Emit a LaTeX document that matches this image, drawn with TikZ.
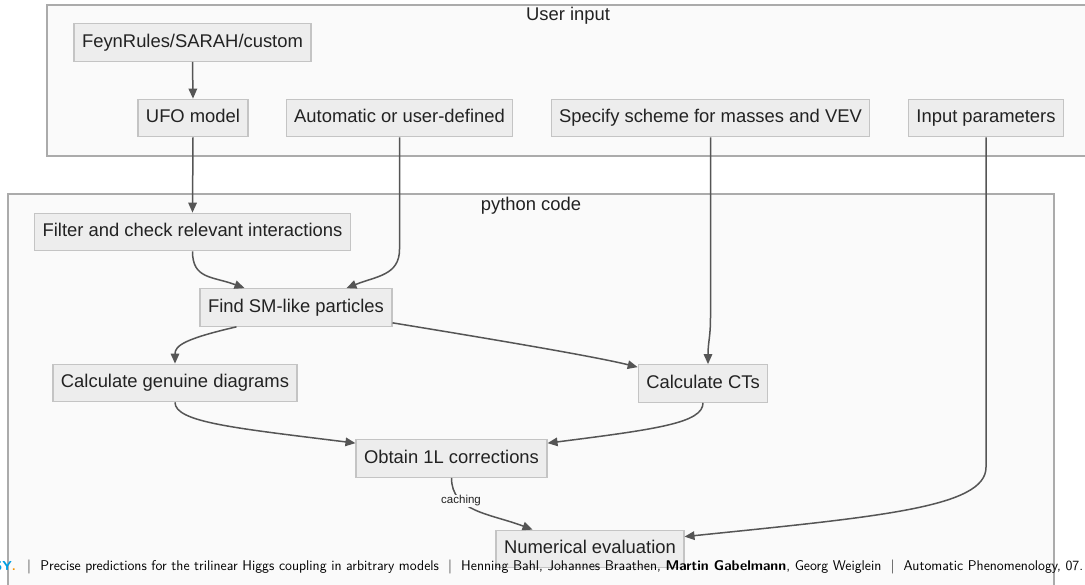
\documentclass[tikz,border=0pt]{standalone}
\usepackage{fontspec}
\setmainfont{Liberation Sans}
\usetikzlibrary{arrows.meta,calc}
\definecolor{boxfill}{HTML}{EDEDED}
\definecolor{boxline}{HTML}{C4C4C4}
\definecolor{grpfill}{HTML}{FAFAFA}
\definecolor{grpline}{HTML}{ABABAB}
\definecolor{edgecol}{HTML}{555555}
\definecolor{txtcol}{HTML}{222222}
\definecolor{desyblue}{HTML}{009FE3}
\definecolor{desyorange}{HTML}{F39200}
\tikzset{
  flowbox/.style={draw=boxline, fill=boxfill, line width=1.2pt, text=txtcol,
    font=\fontsize{18.4}{22}\selectfont, inner xsep=8pt, inner ysep=0pt,
    text height=13.5pt, text depth=4pt, minimum height=37.5pt},
  grp/.style={draw=grpline, fill=grpfill, line width=1.2pt},
  grplabel/.style={text=txtcol, font=\fontsize{18.4}{22}\selectfont},
  flow/.style={draw=edgecol, line width=1.5pt,
    -{Triangle[length=10pt,width=8.5pt]}},
  edgelabel/.style={fill=grpfill, text=txtcol, inner sep=1pt,
    font=\fontsize{11.5}{13}\selectfont},
  footer/.style={text=black, font=\sffamily\fontsize{14.1}{16}\selectfont, inner sep=0pt}
}
\begin{document}
\begin{tikzpicture}[x=1pt,y=1pt]
\useasboundingbox (0,0) rectangle (1085,585);
\fill[white] (0,0) rectangle (1085,585);

% groups
\draw[grp] (47,429) rectangle (1092,580);
\node[grplabel] (gUser) at (568,569) {User input};
\draw[grp] (8,-5) rectangle (1054,391);
\node[grplabel] (gPy) at (531,379) {python code};

% user input nodes
\node[flowbox] (feyn) at (192.5,542.5) {FeynRules/SARAH/custom};
\node[flowbox] (ufo) at (193,467) {UFO model};
\node[flowbox] (auto) at (399.5,467) {Automatic or user-defined};
\node[flowbox] (spec) at (710.5,467) {Specify scheme for masses and VEV};
\node[flowbox] (inp) at (986,467) {Input parameters};

% python nodes
\node[flowbox] (filter) at (192.5,353) {Filter and check relevant interactions};
\node[flowbox] (find) at (296,277.5) {Find SM-like particles};
\node[flowbox] (gen) at (175,202) {Calculate genuine diagrams};
\node[flowbox] (cts) at (703,201.5) {Calculate CTs};
\node[flowbox] (obt) at (451.5,126.5) {Obtain 1L corrections};
\node[flowbox] (num) at (590,36) {Numerical evaluation};

% connectors
\draw[flow] (feyn.south) -- (ufo.north);
\draw[flow] (ufo.south) -- (filter.north);
\draw[flow] (filter.south) .. controls +(0,-28) and +(-32,12) .. ($(find.north west)+(45,0)$);
\draw[flow] (auto.south) -- ($(auto.south)+(0,-112)$)
  .. controls +(0,-26) and +(30,12) .. ($(find.north west)+(147,0)$);
\draw[flow] ($(find.south west)+(37,0)$) .. controls +(-52,-12) and +(0,18) .. (gen.north);
\draw[flow] ($(find.south east)+(0,4)$) .. controls +(110,-18) and +(-40,10) .. ($(cts.north west)+(0,-3)$);
\draw[flow] (spec.south) -- ($(spec.south)+(0,-180)$)
  .. controls +(0,-20) and +(0,22) .. ($(cts.north)+(5,0)$);
\draw[flow] (gen.south) .. controls +(0,-20) and +(-120,15) .. ($(obt.north west)+(0,-4)$);
\draw[flow] (cts.south) .. controls +(0,-20) and +(110,14) .. ($(obt.north east)+(0,-4)$);
\draw[flow] (obt.south) .. controls +(0,-34) and +(-42,16) .. ($(num.north west)+(37,0)$)
  node[edgelabel, pos=0.3] (lCache) {caching};
\draw[flow] (inp.south) -- ($(inp.south)+(0,-330)$)
  .. controls +(0,-40) and +(195,20) .. ($(num.north east)+(0,-7)$);

% footline
\node[footer, anchor=base west] (fTitle) at (27,14.5)
  {|\ \ Precise predictions for the trilinear Higgs coupling in arbitrary models\ \ |\ \ Henning Bahl, Johannes Braathen, \textbf{Martin Gabelmann}, Georg Weiglein\ \ |\ \ Automatic Phenomenology, 07.};
\node[anchor=base east, inner sep=0pt, font=\sffamily\bfseries\fontsize{13}{15}\selectfont] (fLogo) at (16,14.5)
  {\textcolor{desyblue}{SY}\textcolor{desyorange}{.}};
\end{tikzpicture}
\end{document}
